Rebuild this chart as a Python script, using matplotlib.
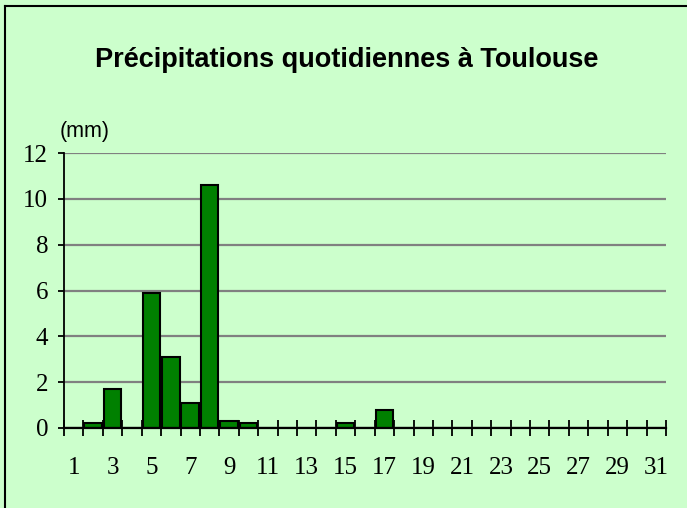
import numpy as np
import matplotlib
matplotlib.use("Agg")
import matplotlib.pyplot as plt
from matplotlib.lines import Line2D
from matplotlib.ticker import FixedLocator, NullFormatter

# daily rainfall in Toulouse (mm), day 1..31
days = list(range(1, 32))
rain = [0, 0.2, 1.7, 0, 5.9, 3.1, 1.1, 10.6, 0.3, 0.2,
        0, 0, 0, 0, 0.2, 0, 0.8, 0, 0, 0,
        0, 0, 0, 0, 0, 0, 0, 0, 0, 0, 0]
yticks = [0, 2, 4, 6, 8, 10, 12]
xlabels = [str(d) if d % 2 == 1 else "" for d in days]

bg = "#ccffcc"
serif = ["Liberation Serif", "DejaVu Serif"]
sans = ["Liberation Sans", "DejaVu Sans"]

fig = plt.figure(figsize=(6.87, 5.08), dpi=100)
fig.patch.set_facecolor(bg)
ax = fig.add_axes([64 / 687, 1 - 428 / 508, (666 - 64) / 687, (428 - 153) / 508])
ax.set_facecolor(bg)

ax.bar(days, rain, width=0.9, color="#008000", edgecolor="black", linewidth=1.5, zorder=3)

ax.set_xlim(0.5, 31.5)
ax.set_ylim(0, 12)
ax.set_yticks(yticks)
ax.set_yticklabels([str(v) for v in yticks], fontfamily=serif, fontsize=18)
ax.yaxis.grid(True, color="#808080", linewidth=1.6, zorder=1)
ax.tick_params(axis="y", length=4.5, width=1.3, pad=7, color="black")

ax.set_xticks(days)
ax.set_xticklabels(xlabels, fontfamily=serif, fontsize=18)
ax.tick_params(axis="x", which="major", length=0, pad=21)
ax.xaxis.set_minor_locator(FixedLocator(np.arange(0.5, 32, 1)))
ax.xaxis.set_minor_formatter(NullFormatter())
ax.tick_params(axis="x", which="minor", direction="inout", length=12, width=1.3, color="black")

for s in ["top", "right"]:
    ax.spines[s].set_visible(False)
ax.spines["bottom"].set_linewidth(1.6)
ax.spines["left"].set_linewidth(1.3)
ax.spines["bottom"].set_zorder(4)

fig.text(347 / 687, 1 - 60 / 508, "Précipitations quotidiennes à Toulouse",
         ha="center", va="center", fontfamily=sans, fontweight="bold", fontsize=19.5)
fig.text(60 / 687, 1 - 131 / 508, "(mm)", ha="left", va="center",
         fontfamily=sans, fontsize=15.5)

# outer frame (left and top edges visible)
fig.add_artist(Line2D([5 / 687, 5 / 687], [0, 1 - 6 / 508], transform=fig.transFigure,
                      color="black", linewidth=1.5))
fig.add_artist(Line2D([5 / 687, 1], [1 - 6 / 508, 1 - 6 / 508], transform=fig.transFigure,
                      color="black", linewidth=1.5))

fig.savefig("out.png", dpi=100, facecolor=bg)
